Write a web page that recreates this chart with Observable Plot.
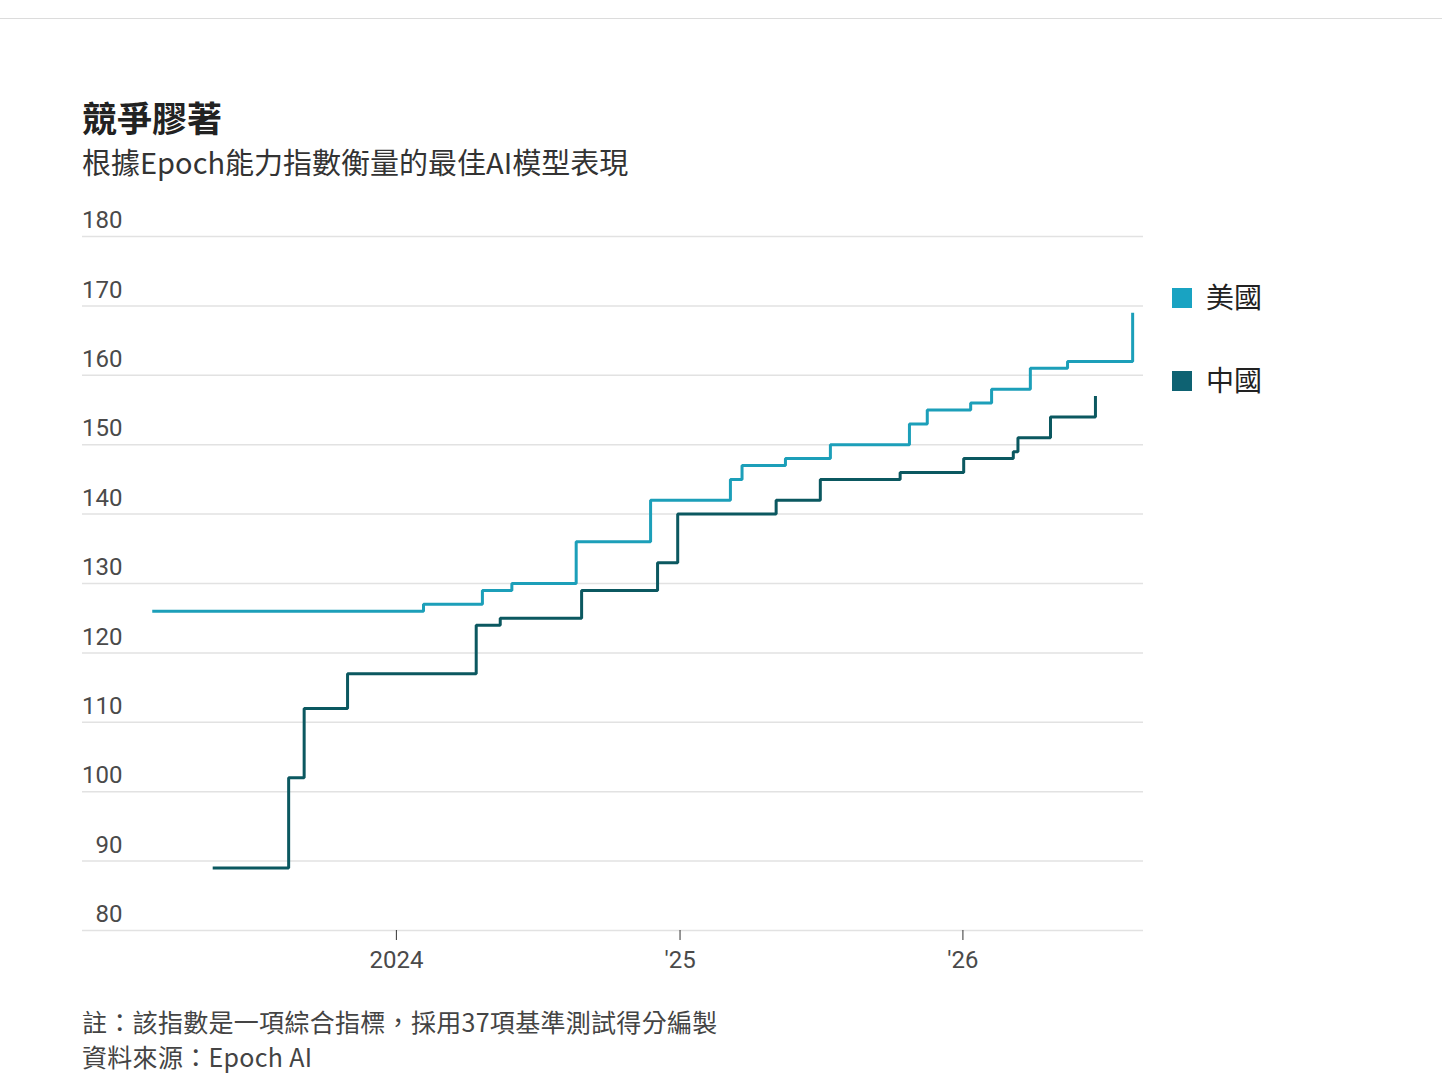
<!DOCTYPE html>
<html>
<head>
<meta charset="utf-8">
<script src="https://cdn.jsdelivr.net/npm/d3@7"></script>
<script src="https://cdn.jsdelivr.net/npm/@observablehq/plot@0.6"></script>
<style>
  html, body { margin: 0; padding: 0; background: #fff; }
  body { width: 1442px; height: 1091px; position: relative; overflow: hidden;
         font-family: "Noto Sans CJK TC", "Noto Sans", sans-serif; color: #333; }
  #topline { position: absolute; left: 0; top: 18px; width: 1442px; height: 0; border-top: 1.5px solid #dcdcdc; }
  #title { position: absolute; left: 82px; top: 99px; height: 36px; font-size: 35px; font-weight: 700; color: #222; line-height: 36px; }
  #subtitle { position: absolute; left: 82px; top: 146px; height: 30px; font-size: 29px; color: #333; line-height: 30px; }
  #chart { position: absolute; left: 0; top: 200px; }
  #legend { position: absolute; left: 1172px; top: 282px; }
  .item { position: absolute; left: 0; white-space: nowrap; font-size: 28px; color: #222; line-height: 1; }
  .sw { display: inline-block; width: 20px; height: 20px; vertical-align: middle; margin-right: 14px; position: relative; top: -2px; }
  #note { position: absolute; left: 82px; top: 1004px; font-size: 25px; letter-spacing: 0.3px; color: #444; line-height: 1.4; }
</style>
</head>
<body>
<div id="topline"></div>
<div id="title"></div>
<div id="subtitle"></div>
<div id="chart"></div>
<div id="legend"></div>
<div id="note"></div>
<script>
// ---- Data ----
const titleText = "競爭膠著";
const subtitleText = "根據Epoch能力指數衡量的最佳AI模型表現";
const noteLines = ["註：該指數是一項綜合指標，採用37項基準測試得分編製", "資料來源：Epoch AI"];

const seriesNames = ["美國", "中國"];
const seriesColors = ["#1c9fb9", "#0b5860"];
const legendColors = ["#19a3c2", "#0e6272"];

const usDates = ["2023-02-20","2024-02-05","2024-04-21","2024-05-29","2024-08-20","2024-11-24",
                 "2025-03-07","2025-03-22","2025-05-17","2025-07-14","2025-10-24","2025-11-16",
                 "2026-01-11","2026-02-07","2026-03-29","2026-05-16","2026-08-08"];
const usValues = [126,127,129,130,136,142,145,147,148,150,153,155,156,158,161,162,169];

const cnDates = ["2023-05-09","2023-08-15","2023-09-04","2023-10-30","2024-04-13","2024-05-14",
                 "2024-08-27","2024-12-03","2024-12-29","2025-05-05","2025-07-01","2025-10-12",
                 "2026-01-02","2026-03-07","2026-03-13","2026-04-24","2026-06-21"];
const cnValues = [89,102,112,117,124,125,129,133,140,142,145,146,148,149,151,154,157];

const yTicks = [80,90,100,110,120,130,140,150,160,170,180];
const xTickDates = ["2024-01-01","2025-01-01","2026-01-01"];
const xTickLabels = ["2024","'25","'26"];

// ---- Build ----
const usData = usDates.map((d,i) => ({date: new Date(d), value: usValues[i]}));
const cnData = cnDates.map((d,i) => ({date: new Date(d), value: cnValues[i]}));
const xTicks = xTickDates.map(d => new Date(d));
const labelFor = d => xTickLabels[xTicks.findIndex(t => +t === +d)];

document.getElementById("title").textContent = titleText;
document.getElementById("subtitle").textContent = subtitleText;
document.getElementById("note").innerHTML = noteLines.map(s => `<div>${s}</div>`).join("");

const legend = document.getElementById("legend");
seriesNames.forEach((name, i) => {
  const el = document.createElement("div");
  el.className = "item";
  el.style.top = (i * 83) + "px";
  el.innerHTML = `<span class="sw" style="background:${legendColors[i]}"></span>${name}`;
  legend.appendChild(el);
});

const chart = Plot.plot({
  width: 1442,
  height: 800,
  marginTop: 36,
  marginBottom: 70,
  marginLeft: 82,
  marginRight: 299,
  x: {type: "utc", domain: [new Date("2022-11-22"), new Date("2026-08-22")]},
  y: {domain: [80, 180], axis: null},
  style: {fontFamily: "Roboto, 'Noto Sans', sans-serif", background: "transparent", overflow: "visible"},
  marks: [
    Plot.ruleY(yTicks, {stroke: "#e2e2e2", strokeWidth: 1.5}),
    Plot.text(yTicks, {y: d => d, frameAnchor: "left", dx: 40, dy: -16, textAnchor: "end",
                       text: d => String(d), fontSize: 24, fill: "#4a4a4a"}),
    Plot.axisX(xTicks, {anchor: "bottom", tickSize: 10, tickPadding: 10, stroke: "#333",
                        tickFormat: labelFor, fontSize: 24, fill: "#4a4a4a", label: null}),
    Plot.line(usData, {x: "date", y: "value", curve: "step-after", stroke: seriesColors[0],
                       strokeWidth: 3, strokeLinejoin: "miter", strokeLinecap: "butt"}),
    Plot.line(cnData, {x: "date", y: "value", curve: "step-after", stroke: seriesColors[1],
                       strokeWidth: 3, strokeLinejoin: "miter", strokeLinecap: "butt"})
  ]
});
document.getElementById("chart").appendChild(chart);
</script>
</body>
</html>
